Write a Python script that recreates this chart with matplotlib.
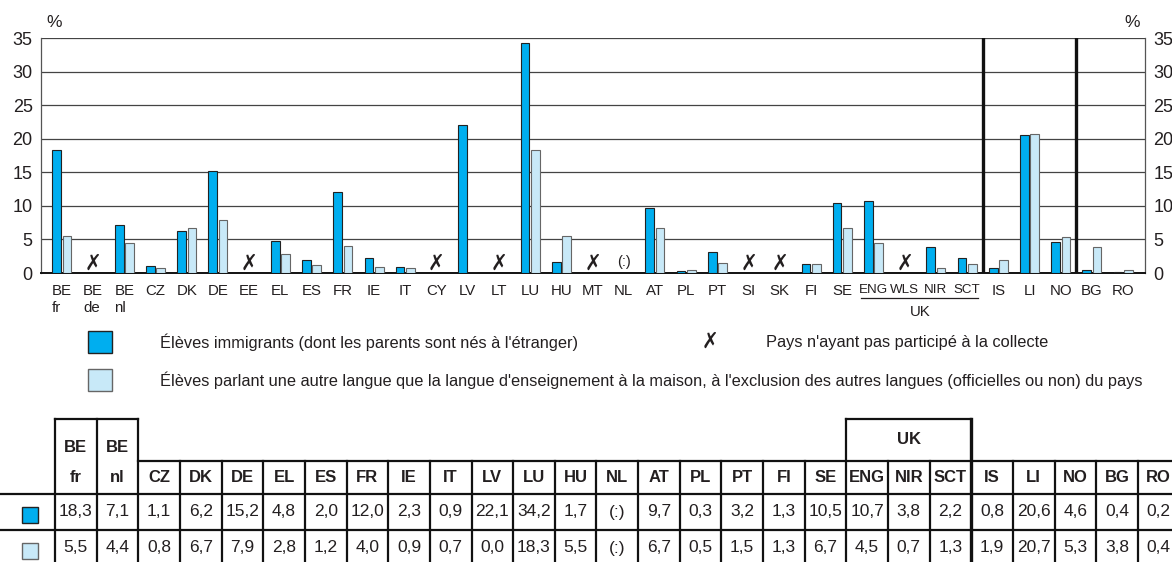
import matplotlib
matplotlib.use("Agg")
import matplotlib.pyplot as plt
from matplotlib.patches import Rectangle
import numpy as np

plt.rcParams["font.family"] = ["Liberation Sans", "DejaVu Sans"]
plt.rcParams["font.stretch"] = "condensed"

INK = "#231f20"
DARK, LIGHT = "#00aeef", "#c8e9f8"

countries = ["BE fr", "BE de", "BE nl", "CZ", "DK", "DE", "EE", "EL", "ES", "FR", "IE", "IT",
             "CY", "LV", "LT", "LU", "HU", "MT", "NL", "AT", "PL", "PT", "SI", "SK", "FI", "SE",
             "ENG", "WLS", "NIR", "SCT", "IS", "LI", "NO", "BG", "RO"]
nan = np.nan
immigrants = [18.3, nan, 7.1, 1.1, 6.2, 15.2, nan, 4.8, 2.0, 12.0, 2.3, 0.9,
              nan, 22.1, nan, 34.2, 1.7, nan, nan, 9.7, 0.3, 3.2, nan, nan, 1.3, 10.5,
              10.7, nan, 3.8, 2.2, 0.8, 20.6, 4.6, 0.4, 0.2]
other_lang = [5.5, nan, 4.4, 0.8, 6.7, 7.9, nan, 2.8, 1.2, 4.0, 0.9, 0.7,
              nan, 0.0, nan, 18.3, 5.5, nan, nan, 6.7, 0.5, 1.5, nan, nan, 1.3, 6.7,
              4.5, nan, 0.7, 1.3, 1.9, 20.7, 5.3, 3.8, 0.4]
not_participating = ["BE de", "EE", "CY", "LT", "MT", "SI", "SK", "WLS"]
unavailable = ["NL"]
uk_parts = ["ENG", "WLS", "NIR", "SCT"]
separators_after = ["SCT", "NO"]
yticks = [0, 5, 10, 15, 20, 25, 30, 35]

legend_labels = ["Élèves immigrants (dont les parents sont nés à l'étranger)",
                 "Élèves parlant une autre langue que la langue d'enseignement à la maison, "
                 "à l'exclusion des autres langues (officielles ou non) du pays"]
legend_x = "Pays n'ayant pas participé à la collecte"

W, H = 1172, 562
FS_X, FS_LEG, FS_TAB = 10.8, 11.8, 12
fig = plt.figure(figsize=(W / 100, H / 100), dpi=100, facecolor="white")
ax = fig.add_axes([41 / W, 1 - 273 / H, (1145 - 41) / W, (273 - 38) / H])

x = np.arange(len(countries))
ax.bar(x - 0.165, immigrants, width=0.28, color=DARK, edgecolor="#222222", lw=0.8, zorder=3)
ax.bar(x + 0.165, other_lang, width=0.28, color=LIGHT, edgecolor="#666666", lw=0.8, zorder=3)
for i, c in enumerate(countries):
    if c in not_participating:
        ax.text(i, 1.4, "✗", ha="center", va="center", fontsize=16, fontweight="bold",
                color=INK, family="DejaVu Sans", zorder=4)
    elif c in unavailable:
        ax.text(i, 1.6, "(:)", ha="center", va="center", fontsize=10.5, color=INK)

for c in separators_after:
    ax.axvline(countries.index(c) + 0.5, color="#111111", lw=2.4, zorder=4)

ax.set_xlim(-0.67, len(countries) - 0.3)
ax.set_ylim(0, 35)
ax.set_yticks(yticks)
ax.yaxis.grid(True, color="#444444", lw=0.9, zorder=0)
ax.spines["top"].set_visible(False)
for s in ["left", "right"]:
    ax.spines[s].set_color("#555555"); ax.spines[s].set_lw(0.9)
ax.spines["bottom"].set_color("#111111"); ax.spines["bottom"].set_lw(1.4)
ax.tick_params(axis="y", length=0, labelsize=13, labelcolor=INK, pad=6,
               labelleft=True, labelright=True)
ax.set_xticks(x)
ax.set_xticklabels([c.replace(" ", "\n") for c in countries], fontsize=FS_X, color=INK,
                   linespacing=1.3)
ax.tick_params(axis="x", length=0, pad=8)
for lab, c in zip(ax.get_xticklabels(), countries):
    lab.set_multialignment("left")
    if c in uk_parts:
        lab.set_fontsize(9.6)

# UK bracket under ENG..SCT
tr = ax.get_xaxis_transform()
i0, i1 = countries.index(uk_parts[0]), countries.index(uk_parts[-1])
ax.plot([i0 - 0.4, i1 + 0.35], [-0.107, -0.107], transform=tr, color=INK, lw=0.9, clip_on=False)
ax.text((i0 + i1) / 2, -0.168, "UK", transform=tr, ha="center", va="center", fontsize=FS_X, color=INK)

ax.text(0.005, 1.065, "%", transform=ax.transAxes, ha="left", va="center", fontsize=12.5, color=INK)
ax.text(0.995, 1.065, "%", transform=ax.transAxes, ha="right", va="center", fontsize=12.5, color=INK)

# overlay in pixel coordinates for legend and table
ov = fig.add_axes([0, 0, 1, 1])
ov.set_xlim(0, W); ov.set_ylim(H, 0); ov.axis("off"); ov.patch.set_visible(False)

for (y, col, ec) in [(331, DARK, "#222222"), (369, LIGHT, "#666666")]:
    ov.add_patch(Rectangle((88, y), 24, 22, facecolor=col, edgecolor=ec, lw=1))
ov.text(160, 342, legend_labels[0], ha="left", va="center", fontsize=FS_LEG, color=INK)
ov.text(160, 380, legend_labels[1], ha="left", va="center", fontsize=FS_LEG, color=INK)
ov.text(710, 342, "✗", ha="center", va="center", fontsize=16, fontweight="bold",
        color=INK, family="DejaVu Sans")
ov.text(766, 342, legend_x, ha="left", va="center", fontsize=FS_LEG, color=INK)

# table
cols = [c for c in countries if c not in not_participating]
vals = [[immigrants[countries.index(c)] for c in cols],
        [other_lang[countries.index(c)] for c in cols]]
x0, cw = 55, 41.65
top, hdr, r1, r2, bot = 419, 461, 494, 530, 562
lw = 1.6
ov.plot([0, W], [r1, r1], color="#111111", lw=lw)
ov.plot([0, W], [r2, r2], color="#111111", lw=lw)
ov.plot([x0 + 2 * cw, W], [hdr, hdr], color="#111111", lw=lw)
uk_cols = [c for c in uk_parts if c in cols]
ua, ub = cols.index(uk_cols[0]), cols.index(uk_cols[-1]) + 1
ov.plot([x0, x0 + 2 * cw], [top, top], color="#111111", lw=lw)
ov.plot([x0 + ua * cw, x0 + ub * cw], [top, top], color="#111111", lw=lw)
for k in range(len(cols) + 1):
    xl = x0 + k * cw
    y_start = top if k <= 2 or k in (ua, ub) else hdr
    ov.plot([xl, xl], [y_start, bot], color="#111111", lw=2.4 if k == ub else lw)
fmt = lambda v: "(:)" if np.isnan(v) else f"{v:.1f}".replace(".", ",")
for k, c in enumerate(cols):
    xc = x0 + (k + 0.5) * cw
    parts = c.split(" ")
    if len(parts) == 2:
        ov.text(xc, 447, parts[0], ha="center", va="center", fontsize=FS_TAB, fontweight="bold", color=INK)
        ov.text(xc, 477, parts[1], ha="center", va="center", fontsize=FS_TAB, fontweight="bold", color=INK)
    else:
        ov.text(xc, 477, c, ha="center", va="center", fontsize=FS_TAB, fontweight="bold", color=INK)
    ov.text(xc, 512, fmt(vals[0][k]), ha="center", va="center", fontsize=FS_TAB + 0.5, color=INK)
    ov.text(xc, 548, fmt(vals[1][k]), ha="center", va="center", fontsize=FS_TAB + 0.5, color=INK)
ov.text(x0 + (ua + ub) / 2 * cw, 440, "UK", ha="center", va="center", fontsize=FS_TAB,
        fontweight="bold", color=INK)
ov.add_patch(Rectangle((22, 507), 16, 16, facecolor=DARK, edgecolor="#222222", lw=1))
ov.add_patch(Rectangle((22, 543), 16, 16, facecolor=LIGHT, edgecolor="#666666", lw=1))

fig.savefig("out.png", dpi=100, facecolor="white")
